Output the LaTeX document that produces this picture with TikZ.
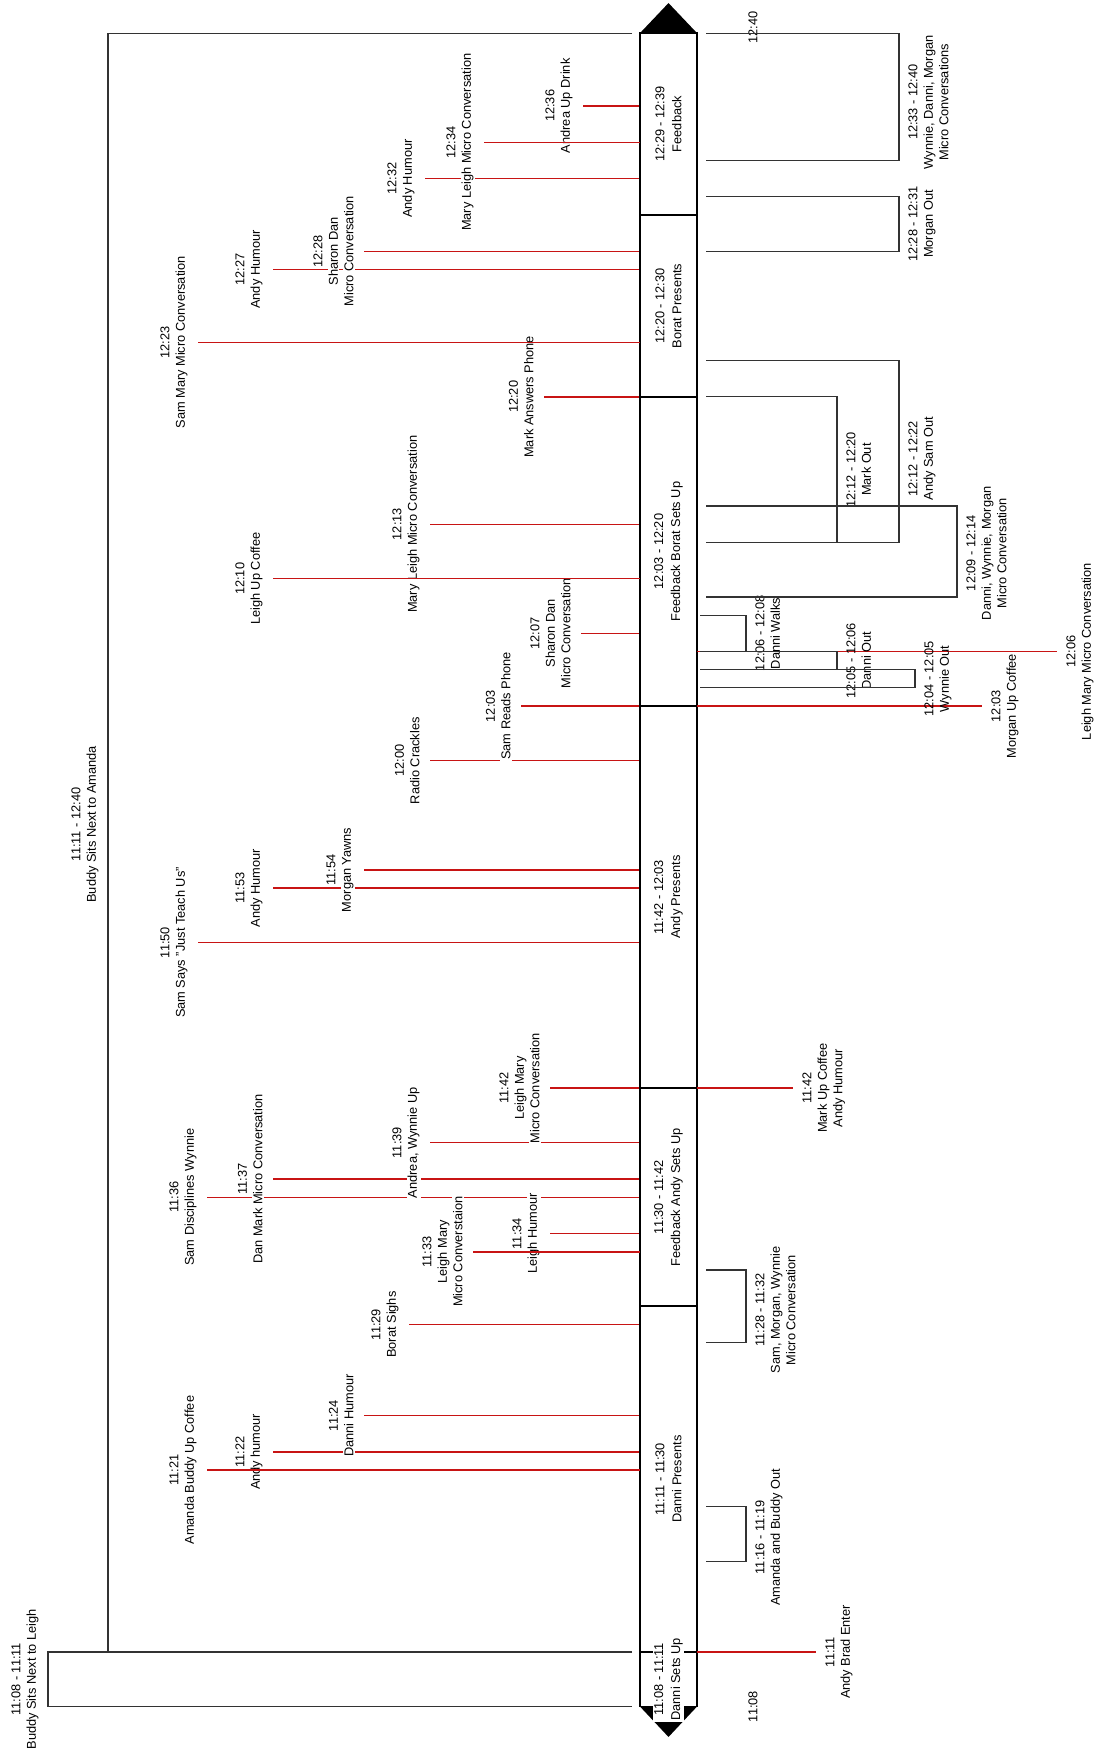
\documentclass[tikz,border=0pt]{standalone}
\usepackage{fontspec}
\setmainfont{Liberation Sans}
\usetikzlibrary{backgrounds}
\definecolor{evred}{RGB}{200,20,20}
\setlength\fboxsep{1pt}
% minutes after 11:00
\newcommand\hm[2]{#1*60+#2-660}
% one label line on a white patch
\newcommand\wb[1]{\colorbox{white}{#1}}

\begin{document}
\begin{tikzpicture}[x=1pt, y=18.19pt,
    font=\fontsize{12.8}{15.5}\selectfont,
    lbl/.style={rotate=90, align=center, inner sep=1.5pt, outer ysep=8pt},
    leftlbl/.style={lbl, anchor=south},
    rightlbl/.style={lbl, anchor=north},
    phase/.style={rotate=90, align=center, inner sep=1pt, fill=white,
      font=\fontsize{12.8}{17}\selectfont},
    segment/.style={draw, line width=1.8pt, fill=white},
    hit/.style={draw=evred, line width=1.4pt},
    bracket/.style={draw=black!80, line width=1.1pt}]

  \useasboundingbox (0,5.558) rectangle (1106,101.82);
  \begin{scope}[on background layer]
    \fill[white] (0,5.558) rectangle (1106,101.82);
  \end{scope}

  \coordinate (barL) at (640,0);
  \coordinate (barR) at (697,0);
  \coordinate (lgap) at (632,0);
  \coordinate (rgap) at (706,0);
  \coordinate (rnear) at (700,0);

  % time bar
  \draw[segment] (640,\hm{11}{8}) rectangle (697,\hm{11}{11});
  \draw[segment] (640,\hm{11}{11}) rectangle (697,\hm{11}{30});
  \draw[segment] (640,\hm{11}{30}) rectangle (697,\hm{11}{42});
  \draw[segment] (640,\hm{11}{42}) rectangle (697,\hm{12}{3});
  \draw[segment] (640,\hm{12}{3}) rectangle (697,\hm{12}{20});
  \draw[segment] (640,\hm{12}{20}) rectangle (697,\hm{12}{30});
  \draw[segment] (640,\hm{12}{30}) rectangle (697,\hm{12}{40});
  \fill (640,\hm{12}{40}) -- (697,\hm{12}{40}) -- (668.5,101.65) -- cycle;
  \fill (640,\hm{11}{8}) -- (697,\hm{11}{8}) -- (668.5,6.33) -- cycle;

  \node[phase] (p1) at (668.5,9.5) {11:08 - 11:11\\Danni Sets Up};
  \node[phase] (p2) at (668.5,20.5) {11:11 - 11:30\\Danni Presents};
  \node[phase] (p3) at (668.5,36) {11:30 - 11:42\\Feedback Andy Sets Up};
  \node[phase] (p4) at (668.5,52.5) {11:42 - 12:03\\Andy Presents};
  \node[phase] (p5) at (668.5,71.5) {12:03 - 12:20\\Feedback Borat Sets Up};
  \node[phase] (p6) at (668.5,85) {12:20 - 12:30\\Borat Presents};
  \node[phase] (p7) at (668.5,95) {12:29 - 12:39\\Feedback};

  \node[rotate=90] (t1240) at (753,100.3) {12:40};
  \node[rotate=90] (t1108) at (753,8) {11:08};

  % events left of the bar
  \node[leftlbl] (e1236) at (583,\hm{12}{36}) {\wb{12:36}\\\wb{Andrea Up Drink}};
  \node[leftlbl] (e1234) at (484,\hm{12}{34}) {\wb{12:34}\\\wb{Mary Leigh Micro Conversation}};
  \node[leftlbl] (e1232) at (425,\hm{12}{32}) {\wb{12:32}\\\wb{Andy Humour}};
  \node[leftlbl] (e1228) at (364,\hm{12}{28}) {\wb{12:28}\\\wb{Sharon Dan}\\\wb{Micro Conversation}};
  \node[leftlbl] (e1227) at (273,\hm{12}{27}) {\wb{12:27}\\\wb{Andy Humour}};
  \node[leftlbl] (e1223) at (198,\hm{12}{23}) {\wb{12:23}\\\wb{Sam Mary Micro Conversation}};
  \node[leftlbl] (e1220) at (544,\hm{12}{20}) {\wb{12:20}\\\wb{Mark Answers Phone}};
  \node[leftlbl] (e1213) at (430,\hm{12}{13}) {\wb{12:13}\\\wb{Mary Leigh Micro Conversation}};
  \node[leftlbl] (e1210) at (273,\hm{12}{10}) {\wb{12:10}\\\wb{Leigh Up Coffee}};
  \node[leftlbl] (e1207) at (581,\hm{12}{7}) {\wb{12:07}\\\wb{Sharon Dan}\\\wb{Micro Conversation}};
  \node[leftlbl] (e1203) at (521,\hm{12}{3}) {\wb{12:03}\\\wb{Sam Reads Phone}};
  \node[leftlbl] (e1200) at (430,\hm{12}{0}) {\wb{12:00}\\\wb{Radio Crackles}};
  \node[leftlbl] (e1154) at (364,\hm{11}{54}) {\wb{11:54}\\\wb{Morgan Yawns}};
  \node[leftlbl] (e1153) at (273,\hm{11}{53}) {\wb{11:53}\\\wb{Andy Humour}};
  \node[leftlbl] (e1150) at (198,\hm{11}{50}) {\wb{11:50}\\\wb{Sam Says "Just Teach Us"}};
  \node[leftlbl] (e1142) at (550,\hm{11}{42}) {\wb{11:42}\\\wb{Leigh Mary}\\\wb{Micro Conversation}};
  \node[leftlbl] (e1139) at (430,\hm{11}{39}) {\wb{11:39}\\\wb{Andrea, Wynnie Up}};
  \node[leftlbl] (e1137) at (273,\hm{11}{37}) {\wb{11:37}\\\wb{Dan Mark Micro Conversation}};
  \node[leftlbl] (e1136) at (207,\hm{11}{36}) {\wb{11:36}\\\wb{Sam Disciplines Wynnie}};
  \node[leftlbl] (e1134) at (550,\hm{11}{34}) {\wb{11:34}\\\wb{Leigh Humour}};
  \node[leftlbl] (e1133) at (473,\hm{11}{33}) {\wb{11:33}\\\wb{Leigh Mary}\\\wb{Micro Converstaion}};
  \node[leftlbl] (e1129) at (409,\hm{11}{29}) {\wb{11:29}\\\wb{Borat Sighs}};
  \node[leftlbl] (e1124) at (364,\hm{11}{24}) {\wb{11:24}\\\wb{Danni Humour}};
  \node[leftlbl] (e1122) at (273,\hm{11}{22}) {\wb{11:22}\\\wb{Andy humour}};
  \node[leftlbl] (e1121) at (207,\hm{11}{21}) {\wb{11:21}\\\wb{Amanda Buddy Up Coffee}};

  \begin{scope}[on background layer]
    \draw[hit] (e1236.south) -- (e1236.south -| barL);
    \draw[hit] (e1232.south) -- (e1232.south -| barL);
    \draw[hit] (e1228.south) -- (e1228.south -| barL);
    \draw[hit] (e1227.south) -- (e1227.south -| barL);
    \draw[hit] (e1220.south) -- (e1220.south -| barL);
    \draw[hit] (e1213.south) -- (e1213.south -| barL);
    \draw[hit] (e1207.south) -- (e1207.south -| barL);
    \draw[hit] (e1203.south) -- (e1203.south -| barL);
    \draw[hit] (e1200.south) -- (e1200.south -| barL);
    \draw[hit] (e1154.south) -- (e1154.south -| barL);
    \draw[hit] (e1153.south) -- (e1153.south -| barL);
    \draw[hit] (e1150.south) -- (e1150.south -| barL);
    \draw[hit] (e1142.south) -- (e1142.south -| barL);
    \draw[hit] (e1139.south) -- (e1139.south -| barL);
    \draw[hit] (e1137.south) -- (e1137.south -| barL);
    \draw[hit] (e1136.south) -- (e1136.south -| barL);
    \draw[hit] (e1134.south) -- (e1134.south -| barL);
    \draw[hit] (e1129.south) -- (e1129.south -| barL);
    \draw[hit] (e1124.south) -- (e1124.south -| barL);
    \draw[hit] (e1122.south) -- (e1122.south -| barL);
  \end{scope}
  % these run over the labels they cross
  \draw[hit] (e1234.south) -- (e1234.south -| barL);
  \draw[hit] (e1223.south) -- (e1223.south -| barL);
  \draw[hit] (e1210.south) -- (e1210.south -| barL);
  \draw[hit] (e1133.south) -- (e1133.south -| barL);
  \draw[hit] (e1121.south) -- (e1121.south -| barL);

  % events right of the bar
  \node[rightlbl] (r1206) at (1057,\hm{12}{6}) {12:06\\Leigh Mary Micro Conversation};
  \node[rightlbl] (r1203) at (982,\hm{12}{3}) {12:03\\Morgan Up Coffee};
  \node[rightlbl] (r1142) at (793,\hm{11}{42}) {11:42\\Mark Up Coffee\\Andy Humour};
  \node[rightlbl] (r1111) at (816,\hm{11}{11}) {11:11\\Andy Brad Enter};
  \draw[hit] (r1206.north -| barR) -- (r1206.north);
  \draw[hit] (r1203.north -| barR) -- (r1203.north);
  \draw[hit] (r1142.north -| barR) -- (r1142.north);
  \draw[hit] (r1111.north -| barR) -- (r1111.north);

  % spans right of the bar
  \node[rightlbl] (b1233) at (899,96.2) {12:33 - 12:40\\Wynnie, Danni, Morgan\\Micro Conversations};
  \node[rightlbl] (b1228) at (899,89.5) {12:28 - 12:31\\Morgan Out};
  \node[rightlbl] (b1212s) at (899,76.6) {12:12 - 12:22\\Andy Sam Out};
  \node[rightlbl] (b1212m) at (837,76) {12:12 - 12:20\\Mark Out};
  \node[rightlbl] (b1209) at (957,71.4) {12:09 - 12:14\\Danni, Wynnie, Morgan\\Micro Conversation};
  \node[rightlbl] (b1206) at (746,67) {12:06 - 12:08\\Danni Walks};
  \node[rightlbl] (b1205) at (837,65.5) {12:05 - 12:06\\Danni Out};
  \node[rightlbl] (b1204) at (915,64.5) {12:04 - 12:05\\Wynnie Out};
  \node[rightlbl] (b1128) at (746,29.8) {11:28 - 11:32\\Sam, Morgan, Wynnie\\Micro Conversation};
  \node[rightlbl] (b1116) at (746,17.3) {11:16 - 11:19\\Amanda and Buddy Out};

  \draw[bracket] (rgap |- 0,\hm{12}{40}) -| (b1233.north) |- (rgap |- 0,\hm{12}{33});
  \draw[bracket] (rgap |- 0,\hm{12}{31}) -| (b1228.north) |- (rgap |- 0,\hm{12}{28});
  \draw[bracket] (rgap |- 0,\hm{12}{22}) -| (b1212s.north) |- (rgap |- 0,\hm{12}{12});
  \draw[bracket] (rgap |- 0,\hm{12}{20}) -| (b1212m.north) |- (rgap |- 0,\hm{12}{12});
  \draw[bracket] (rgap |- 0,\hm{12}{14}) -| (b1209.north) |- (rgap |- 0,\hm{12}{9});
  \draw[bracket] (rnear |- 0,\hm{12}{8}) -| (b1206.north) |- (rnear |- 0,\hm{12}{6});
  \draw[bracket] (rnear |- 0,\hm{12}{6}) -| (b1205.north) |- (rnear |- 0,\hm{12}{5});
  \draw[bracket] (rnear |- 0,\hm{12}{5}) -| (b1204.north) |- (rnear |- 0,\hm{12}{4});
  \draw[bracket] (rgap |- 0,\hm{11}{32}) -| (b1128.north) |- (rgap |- 0,\hm{11}{28});
  \draw[bracket] (rgap |- 0,\hm{11}{19}) -| (b1116.north) |- (rgap |- 0,\hm{11}{16});

  % spans left of the bar
  \node[lbl, anchor=south] (l1111) at (108,56.5) {11:11 - 12:40\\Buddy Sits Next to Amanda};
  \node[lbl, anchor=south] (l1108) at (48,9.5) {11:08 - 11:11\\Buddy Sits Next to Leigh};
  \draw[bracket] (lgap |- 0,\hm{12}{40}) -| (l1111.south) |- (lgap |- 0,\hm{11}{11});
  \draw[bracket] (lgap |- 0,\hm{11}{11}) -| (l1108.south) |- (lgap |- 0,\hm{11}{8});
\end{tikzpicture}
\end{document}
